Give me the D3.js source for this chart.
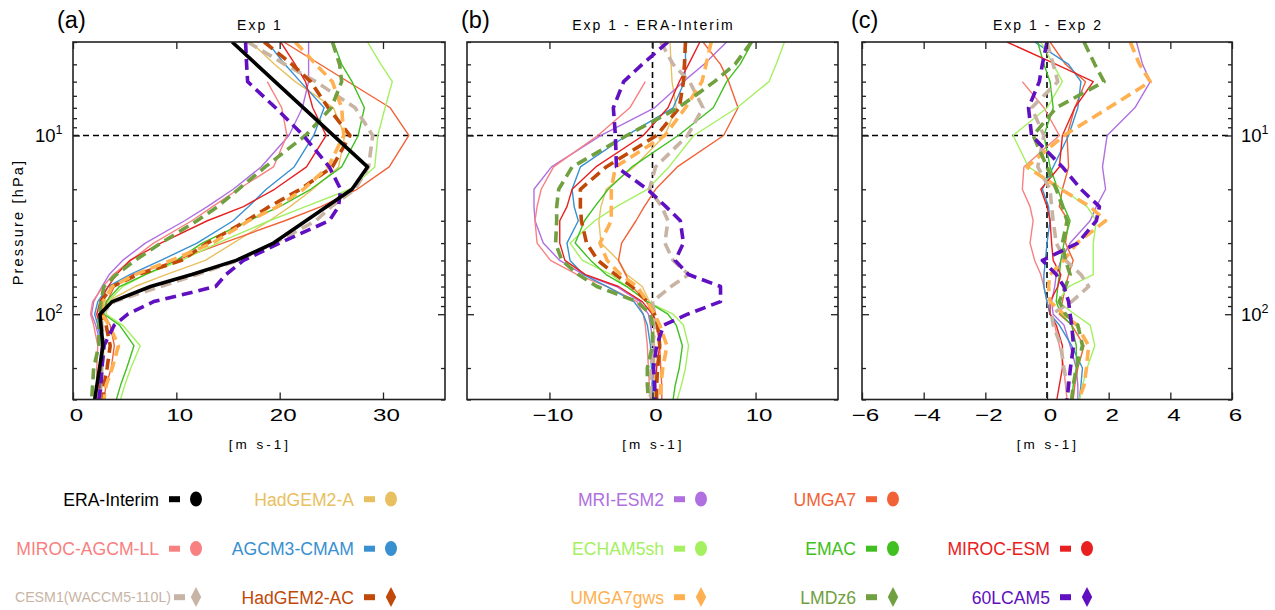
<!DOCTYPE html>
<html>
<head>
<meta charset="utf-8">
<script src="https://cdn.jsdelivr.net/npm/d3@7"></script>
<style>
  body { margin: 0; background: #ffffff; }
  svg { font-family: "Liberation Sans", Arial, Helvetica, sans-serif; }
</style>
</head>
<body>
<svg id="chart" width="1275" height="610"></svg>
<script>
// Pressure levels (hPa) shared by every profile; null = no value at that level
const pressureLevels = [3, 4, 5, 7, 10, 15, 20, 25, 30, 40, 50, 60, 70, 85, 100, 115, 150, 200, 250, 300];

// ---- (a) Exp 1 zonal wind [m s-1] ----
const exp1_ERAInterim = [15.4, null, null, null, null, 28.5, 27.0, null, null, 19.4, 15.8, 11.5, 7.5, 3.8, 2.6, null, 2.9, null, null, 2.1];
const exp1_HadGEM2A   = [17.2, 19.5, 21.5, 25.2, 26.3, 25.7, 23.2, 21.0, 19.0, 15.5, 12.8, 9.0, 6.0, 3.3, 2.5, 2.7, 3.0, 2.9, 2.8, 2.7];
const exp1_MRIESM2    = [22.8, 22.8, 22.8, 22.2, 20.9, 18.2, 15.5, 13.0, 10.8, 7.0, 4.8, 3.5, 2.8, 2.0, 1.8, 2.2, 2.7, 2.6, 2.5, 2.4];
const exp1_UMGA7      = [20.4, null, null, 30.7, 32.5, 30.6, 27.5, 24.0, 20.5, 14.5, 10.0, 5.8, 4.0, 3.3, 3.0, 3.6, 4.0, 3.7, 3.2, 3.0];
const exp1_MIROCAGCM  = [null, null, 18.8, 20.2, 20.7, 19.4, 16.0, 13.5, 11.5, 7.8, 5.6, 3.9, 2.9, 1.9, 1.7, 2.0, 2.4, 2.3, 2.3, 2.3];
const exp1_AGCM3CMAM  = [18.8, 20.5, 22.0, 24.3, 23.3, 21.4, 18.7, 17.0, 15.5, 12.0, 8.5, 5.5, 3.4, 2.4, 2.1, 2.4, 2.8, 2.8, 2.7, 2.6];
const exp1_ECHAM5sh   = [28.5, 29.8, 30.9, 30.2, 29.5, 29.2, 26.8, 22.5, 19.0, 14.0, 10.5, 7.0, 4.8, 3.4, 3.2, 4.8, 6.5, 5.6, 5.0, 4.6];
const exp1_EMAC       = [25.2, 26.0, 27.0, 28.2, 27.6, 26.0, 23.0, 20.0, 17.0, 12.5, 10.0, 7.0, 4.5, 3.2, 3.0, 4.5, 5.9, 5.2, 4.6, 4.2];
const exp1_MIROCESM   = [20.1, 21.5, 22.5, 23.2, 24.5, 22.6, 19.5, 16.5, 13.0, 8.5, 5.5, 4.2, 3.4, 2.6, 2.3, 2.6, 2.9, 2.7, 2.6, 2.5];
const exp1_CESM1      = [16.9, 20.5, 23.5, 27.3, 29.0, 28.6, 27.3, 25.0, 23.5, 19.5, 16.0, 12.0, 8.5, 4.0, 2.7, 2.8, 3.0, 2.8, 2.7, 2.6];
const exp1_HadGEM2AC  = [18.5, 21.2, 23.0, 24.7, 26.8, 25.1, 22.0, 19.0, 16.8, 13.0, 10.5, 6.3, 3.8, 2.7, 2.8, 3.2, 3.6, 3.3, 3.0, 2.9];
const exp1_UMGA7gws   = [21.5, 23.5, 25.1, 26.0, 26.2, 24.7, 22.3, 19.8, 17.0, 13.5, 9.5, 6.0, 3.8, 2.9, 2.8, 3.5, 4.4, 3.8, 3.2, 3.0];
const exp1_LMDz6      = [25.1, 25.8, 26.0, 25.0, 22.5, 18.6, 16.0, 14.0, 12.0, 8.5, 6.0, 4.2, 3.0, 2.7, 2.6, 2.5, 2.5, 2.0, 1.9, 1.8];
const exp1_60LCAM5    = [16.7, 16.8, 16.9, 19.6, 22.3, 24.8, 25.9, 25.7, 24.8, 20.0, 16.5, 14.8, 13.8, 7.8, 5.3, 4.0, 3.0, 2.8, 2.7, 2.5];

// ---- (b) Exp 1 - ERA-Interim [m s-1] ----
const diffEra_HadGEM2A  = [1.7, 1.8, 1.9, 2.3, 1.2, -1.8, -4.5, -5.0, -5.2, -5.0, -3.3, -2.5, -1.0, -0.3, 0.0, 0.1, 0.2, 0.2, 0.2, 0.2];
const diffEra_MRIESM2   = [7.2, 5.0, 3.0, 0.2, -5.0, -9.8, -11.5, -11.5, -11.4, -10.6, -9.0, -6.7, -3.5, -1.2, -0.4, -0.2, 0.1, 0.1, 0.0, 0.0];
const diffEra_UMGA7     = [4.9, 6.6, 7.4, 8.3, 6.9, 2.4, 0.3, -0.8, -1.6, -3.0, -3.3, -2.6, -2.0, -0.6, 0.1, 0.4, 0.7, 0.8, 0.9, 0.9];
const diffEra_MIROCAGCM = [null, null, -0.7, -2.2, -5.3, -9.6, -10.8, -11.2, -11.4, -11.2, -9.9, -7.3, -4.4, -1.5, -0.9, -0.7, -0.5, -0.4, -0.3, -0.2];
const diffEra_AGCM3CMAM = [3.2, 3.2, 3.1, 2.0, -2.5, -7.0, -7.8, -7.6, -7.2, -8.3, -8.0, -6.7, -4.4, -1.8, -0.9, -0.5, -0.2, -0.1, 0.0, 0.0];
const diffEra_ECHAM5sh  = [12.8, 12.0, 11.3, 8.2, 4.0, 1.6, -0.5, -3.5, -5.6, -8.0, -6.8, -4.0, -2.5, -0.5, 2.0, 3.0, 3.5, 3.2, 2.8, 2.4];
const diffEra_EMAC      = [9.7, 8.5, 7.2, 5.9, 2.5, -2.0, -4.3, -5.6, -6.6, -7.5, -6.0, -4.5, -2.5, -0.5, 1.5, 2.3, 2.9, 2.6, 2.2, 2.0];
const diffEra_MIROCESM  = [4.6, 3.5, 2.6, 1.5, -0.9, -5.5, -7.8, -8.3, -9.0, -9.0, -8.5, -6.5, -3.3, -1.0, 0.0, 0.5, 0.7, 0.4, 0.3, 0.3];
const diffEra_CESM1     = [0.8, 2.0, 3.6, 4.9, 3.4, 0.3, -0.3, 0.9, 1.5, 1.2, 2.0, 3.5, 1.8, 0.0, 0.2, 0.3, 0.0, -0.1, -0.2, -0.2];
const diffEra_HadGEM2AC = [3.2, 3.1, 3.0, 2.6, 0.4, -4.5, -7.0, -7.0, -6.9, -6.4, -5.3, -3.6, -2.0, -0.5, 0.2, 0.5, 0.7, 0.5, 0.4, 0.4];
const diffEra_UMGA7gws  = [5.7, 5.2, 4.8, 3.2, 1.2, -3.6, -4.0, -4.0, -4.0, -5.1, -4.4, -3.1, -1.5, -0.5, 0.2, 0.7, 1.4, 1.0, 0.8, 0.75];
const diffEra_LMDz6     = [9.6, 8.0, 6.0, 2.5, -2.5, -7.8, -9.1, -9.3, -9.3, -9.4, -8.8, -7.2, -5.4, -1.5, -0.2, 0.0, 0.0, -0.5, -0.5, -0.4];
const diffEra_60LCAM5   = [1.5, -1.0, -2.8, -3.8, -3.6, -3.5, -0.5, 1.3, 2.7, 3.0, 2.2, 3.5, 6.6, 6.6, 3.4, 1.1, 0.4, 0.1, 0.2, 0.25];

// ---- (c) Exp 1 - Exp 2 [m s-1] ----
const diffExp2_MRIESM2   = [2.9, 3.1, 3.35, 2.85, 1.95, 1.8, 1.9, 1.6, 1.4, 0.75, 0.45, 0.3, 0.25, 0.15, 0.2, 0.55, 0.75, 0.95, 1.0, 1.0];
const diffExp2_UMGA7     = [0.1, 0.6, 1.25, 0.9, 0.65, 0.7, 0.5, 0.4, 0.7, 0.6, 0.85, 0.7, 0.6, 0.5, 0.4, 0.8, 1.2, 1.0, 0.9, 0.85];
const diffExp2_MIROCAGCM = [null, null, -0.8, -0.1, 0.4, -0.75, -0.8, -0.55, -0.45, -0.55, -0.4, -0.2, -0.1, 0.0, 0.1, 0.25, 0.4, 0.55, 0.6, 0.65];
const diffExp2_AGCM3CMAM = [-0.4, 0.7, 1.1, 1.0, 0.7, 0.2, -0.15, 0.05, 0.1, 0.0, -0.05, -0.1, -0.1, 0.0, 0.1, 0.4, 0.8, 1.15, 1.1, 1.05];
const diffExp2_ECHAM5sh  = [-0.2, 0.2, 0.5, 0.0, -1.1, -0.6, 0.5, 1.3, 1.6, 1.5, 1.5, 1.5, 0.7, 0.35, 0.9, 1.4, 1.55, 1.3, 1.15, 1.05];
const diffExp2_EMAC      = [-0.3, -0.1, 0.1, 0.2, -0.1, 0.1, 0.35, 0.55, 0.75, 0.55, 0.45, 0.4, 0.35, 0.3, 0.45, 0.8, 0.95, 0.95, 0.85, 0.8];
const diffExp2_MIROCESM  = [-1.3, 0.3, 1.5, 0.9, 0.5, 0.4, -0.2, 0.0, 0.1, 0.15, 0.2, 0.45, 0.35, 0.1, 0.1, 0.3, 0.5, 0.5, 0.4, 0.32];
const diffExp2_CESM1     = [0.0, 0.2, 0.35, -0.5, -0.1, -0.3, 0.1, 0.15, 0.2, 0.3, 0.6, 1.1, 1.35, 0.8, 0.15, 0.2, 0.45, 0.55, 0.65, 0.7];
const diffExp2_UMGA7gws  = [2.7, 3.0, 3.35, 2.0, 0.55, -0.65, 0.45, 1.4, 1.9, 0.97, 0.54, 0.1, 0.05, 0.1, 0.54, 0.97, 1.35, 1.28, 1.2, 1.03];
const diffExp2_LMDz6     = [1.2, 1.55, 1.85, 0.3, -0.45, 0.0, 0.3, 0.5, 0.65, 0.5, 0.6, 0.75, 0.6, 0.4, 0.6, 1.0, 1.15, 0.95, 0.85, 0.8];
const diffExp2_60LCAM5   = [0.0, -0.15, -0.25, -0.6, -0.5, 0.5, 1.1, 1.7, 1.6, 1.0, -0.15, 0.3, 0.55, 0.7, 0.75, 0.8, 0.86, 0.76, 0.7, 0.65];

// Axis ticks and labels
const xTicksA = [0, 10, 20, 30];
const xTicksB = [-10, 0, 10];
const xTicksC = [-6, -4, -2, 0, 2, 4, 6];
const yMajorTicks = [10, 100];
const yMajorExponents = ["1", "2"];

// Line / marker styles per dataset
const styles = {
  "ERA-Interim":        { color: "#000000", width: 3.6, dashed: false, marker: "circle" },
  "HadGEM2-A":          { color: "#e8c060", width: 1.4, dashed: false, marker: "circle" },
  "MRI-ESM2":           { color: "#b070e0", width: 1.4, dashed: false, marker: "circle" },
  "UMGA7":              { color: "#f26238", width: 1.4, dashed: false, marker: "circle" },
  "MIROC-AGCM-LL":      { color: "#f88080", width: 1.4, dashed: false, marker: "circle" },
  "AGCM3-CMAM":         { color: "#3890d0", width: 1.4, dashed: false, marker: "circle" },
  "ECHAM5sh":           { color: "#a4f060", width: 1.4, dashed: false, marker: "circle" },
  "EMAC":               { color: "#40c020", width: 1.4, dashed: false, marker: "circle" },
  "MIROC-ESM":          { color: "#e82020", width: 1.4, dashed: false, marker: "circle" },
  "CESM1(WACCM5-110L)": { color: "#c8b4a4", width: 3.6, dashed: true,  marker: "diamond" },
  "HadGEM2-AC":         { color: "#c04808", width: 3.6, dashed: true,  marker: "diamond" },
  "UMGA7gws":           { color: "#ffb050", width: 3.6, dashed: true,  marker: "diamond" },
  "LMDz6":              { color: "#70a040", width: 3.6, dashed: true,  marker: "diamond" },
  "60LCAM5":            { color: "#6010c0", width: 3.6, dashed: true,  marker: "diamond" }
};

// Profiles per panel, in drawing order (thin solid first, dashed on top, reanalysis last)
const seriesA = [
  ["HadGEM2-A", exp1_HadGEM2A], ["MRI-ESM2", exp1_MRIESM2], ["UMGA7", exp1_UMGA7],
  ["MIROC-AGCM-LL", exp1_MIROCAGCM], ["AGCM3-CMAM", exp1_AGCM3CMAM], ["ECHAM5sh", exp1_ECHAM5sh],
  ["EMAC", exp1_EMAC], ["MIROC-ESM", exp1_MIROCESM], ["CESM1(WACCM5-110L)", exp1_CESM1],
  ["HadGEM2-AC", exp1_HadGEM2AC], ["UMGA7gws", exp1_UMGA7gws], ["LMDz6", exp1_LMDz6],
  ["60LCAM5", exp1_60LCAM5], ["ERA-Interim", exp1_ERAInterim]
];
const seriesB = [
  ["HadGEM2-A", diffEra_HadGEM2A], ["MRI-ESM2", diffEra_MRIESM2], ["UMGA7", diffEra_UMGA7],
  ["MIROC-AGCM-LL", diffEra_MIROCAGCM], ["AGCM3-CMAM", diffEra_AGCM3CMAM], ["ECHAM5sh", diffEra_ECHAM5sh],
  ["EMAC", diffEra_EMAC], ["MIROC-ESM", diffEra_MIROCESM], ["CESM1(WACCM5-110L)", diffEra_CESM1],
  ["HadGEM2-AC", diffEra_HadGEM2AC], ["UMGA7gws", diffEra_UMGA7gws], ["LMDz6", diffEra_LMDz6],
  ["60LCAM5", diffEra_60LCAM5]
];
const seriesC = [
  ["MRI-ESM2", diffExp2_MRIESM2], ["UMGA7", diffExp2_UMGA7], ["MIROC-AGCM-LL", diffExp2_MIROCAGCM],
  ["AGCM3-CMAM", diffExp2_AGCM3CMAM], ["ECHAM5sh", diffExp2_ECHAM5sh], ["EMAC", diffExp2_EMAC],
  ["MIROC-ESM", diffExp2_MIROCESM], ["CESM1(WACCM5-110L)", diffExp2_CESM1], ["UMGA7gws", diffExp2_UMGA7gws],
  ["LMDz6", diffExp2_LMDz6], ["60LCAM5", diffExp2_60LCAM5]
];

// Legend grid: [name, column, row]
const legendItems = [
  ["ERA-Interim", 0, 0], ["HadGEM2-A", 1, 0], ["MRI-ESM2", 2, 0], ["UMGA7", 3, 0],
  ["MIROC-AGCM-LL", 0, 1], ["AGCM3-CMAM", 1, 1], ["ECHAM5sh", 2, 1], ["EMAC", 3, 1], ["MIROC-ESM", 4, 1],
  ["CESM1(WACCM5-110L)", 0, 2], ["HadGEM2-AC", 1, 2], ["UMGA7gws", 2, 2], ["LMDz6", 3, 2], ["60LCAM5", 4, 2]
];

// ---------------------------------------------------------------
const svg = d3.select("#chart");
const plotTop = 42, plotBottom = 399.5;
const y = d3.scaleLog().domain([3, 300]).range([plotTop, plotBottom]);
const minorY = [];
[1, 10, 100].forEach(dec => d3.range(2, 10).forEach(k => {
  const v = k * dec;
  if (v >= 3 && v <= 300 && v !== 10 && v !== 100) minorY.push(v);
}));

const panels = [
  { key: "a", letter: "(a)", letterX: 57, title: "Exp 1", x0: 73, x1: 445, domain: [0, 36], ticks: xTicksA, series: seriesA, yLabels: "left", zero: false },
  { key: "b", letter: "(b)", letterX: 461, title: "Exp 1 - ERA-Interim", x0: 467, x1: 838, domain: [-18, 18], ticks: xTicksB, series: seriesB, yLabels: null, zero: true },
  { key: "c", letter: "(c)", letterX: 851, title: "Exp 1 - Exp 2", x0: 862, x1: 1232, domain: [-6, 6], ticks: xTicksC, series: seriesC, yLabels: "right", zero: true }
];

const fmt = v => (v < 0 ? "\u2212" + Math.abs(v) : String(v));

panels.forEach(p => {
  const x = d3.scaleLinear().domain(p.domain).range([p.x0, p.x1]);
  const g = svg.append("g").attr("class", "panel-" + p.key);
  const w = p.x1 - p.x0, h = plotBottom - plotTop;

  g.append("clipPath").attr("id", "clip-" + p.key)
    .append("rect").attr("x", p.x0).attr("y", plotTop).attr("width", w).attr("height", h);

  // reference lines
  g.append("line")
    .attr("x1", p.x0).attr("x2", p.x1).attr("y1", y(10)).attr("y2", y(10))
    .attr("stroke", "#000").attr("stroke-width", 1.6).attr("stroke-dasharray", "6,4");
  if (p.zero) {
    g.append("line")
      .attr("x1", x(0)).attr("x2", x(0)).attr("y1", plotTop).attr("y2", plotBottom)
      .attr("stroke", "#000").attr("stroke-width", 1.6).attr("stroke-dasharray", "6,4");
  }

  // profiles
  const line = d3.line().x(d => x(d[1])).y(d => y(d[0]));
  const lines = g.append("g").attr("clip-path", "url(#clip-" + p.key + ")");
  p.series.forEach(([name, vals]) => {
    const st = styles[name];
    const pts = pressureLevels.map((lev, i) => [lev, vals[i]]).filter(d => d[1] !== null);
    lines.append("path")
      .datum(pts)
      .attr("d", line)
      .attr("fill", "none")
      .attr("stroke", st.color)
      .attr("stroke-width", st.width)
      .attr("stroke-linejoin", "round")
      .attr("stroke-dasharray", st.dashed ? "11,6" : null);
  });

  // x axes (ticks point inward)
  const xb = g.append("g").attr("transform", `translate(0,${plotBottom})`)
    .call(d3.axisBottom(x).tickValues(p.ticks).tickSizeInner(-7).tickSizeOuter(0).tickPadding(9).tickFormat(fmt));
  const xt = g.append("g").attr("transform", `translate(0,${plotTop})`)
    .call(d3.axisTop(x).tickValues(p.ticks).tickSizeInner(-7).tickSizeOuter(0).tickFormat(""));
  [xb, xt].forEach(a => {
    a.select(".domain").remove();
    a.selectAll(".tick line").attr("stroke", "#222").attr("stroke-width", 1.3);
  });
  xb.selectAll(".tick text")
    .attr("fill", "#000").attr("font-size", 17).attr("font-family", "Liberation Sans, Arial, sans-serif")
    .attr("transform", "translate(3,0) scale(1.42,1)");

  // y axes: major and minor ticks on both sides
  const yAxes = [
    [d3.axisLeft(y).tickValues(yMajorTicks).tickSizeInner(-7), p.x0],
    [d3.axisLeft(y).tickValues(minorY).tickSizeInner(-4), p.x0],
    [d3.axisRight(y).tickValues(yMajorTicks).tickSizeInner(-7), p.x1],
    [d3.axisRight(y).tickValues(minorY).tickSizeInner(-4), p.x1]
  ];
  yAxes.forEach(([ax, xpos]) => {
    const a = g.append("g").attr("transform", `translate(${xpos},0)`)
      .call(ax.tickSizeOuter(0).tickFormat(""));
    a.select(".domain").remove();
    a.selectAll(".tick line").attr("stroke", "#222").attr("stroke-width", 1.3);
  });

  // decade labels 10^n
  if (p.yLabels) {
    yMajorTicks.forEach((t, i) => {
      const tx = p.yLabels === "left" ? p.x0 - 38 : p.x1 + 9;
      const txt = g.append("text")
        .attr("x", tx).attr("y", y(t) + 7)
        .attr("font-size", 18.5).attr("fill", "#000");
      txt.append("tspan").text("10");
      txt.append("tspan").attr("font-size", 12.5).attr("dy", -8).text(yMajorExponents[i]);
    });
  }

  // frame
  g.append("rect").attr("x", p.x0).attr("y", plotTop).attr("width", w).attr("height", h)
    .attr("fill", "none").attr("stroke", "#222").attr("stroke-width", 1.6);

  // titles
  g.append("text").attr("x", p.letterX).attr("y", 28).attr("font-size", 23.5).text(p.letter);
  g.append("text").attr("x", (p.x0 + p.x1) / 2 + 1).attr("y", 30)
    .attr("text-anchor", "middle").attr("font-size", 14).attr("letter-spacing", 2)
    .text(p.title);
  g.append("text").attr("x", (p.x0 + p.x1) / 2 + 1).attr("y", 449)
    .attr("text-anchor", "middle").attr("font-size", 13.5).attr("letter-spacing", 3)
    .text("[m s-1]");
});

// vertical axis title
svg.append("text")
  .attr("transform", "translate(23,222) rotate(-90)")
  .attr("text-anchor", "middle").attr("font-size", 14.5).attr("letter-spacing", 2.2)
  .text("Pressure [hPa]");

// legend
const legendColX = [196, 391, 701, 893, 1087];
const legendRowY = [499, 548.5, 597];
const lg = svg.append("g").attr("class", "legend");
legendItems.forEach(([name, col, row]) => {
  const st = styles[name];
  const cx = legendColX[col], cy = legendRowY[row];
  const small = name.length > 14;
  lg.append("text")
    .attr("x", small ? cx - 25 : cx - 37).attr("y", small ? cy + 5 : cy + 6.5)
    .attr("text-anchor", "end").attr("font-size", small ? 14.2 : 17.6)
    .attr("fill", st.color).text(name);
  const d0 = small ? cx - 22 : cx - 27;
  lg.append("rect").attr("x", d0).attr("y", cy - 2.8).attr("width", 11).attr("height", 6)
    .attr("fill", st.color);
  if (st.marker === "circle") {
    lg.append("ellipse").attr("cx", cx).attr("cy", cy).attr("rx", 6).attr("ry", 7.5).attr("fill", st.color);
  } else {
    lg.append("path")
      .attr("d", `M${cx},${cy - 10}L${cx + 5.2},${cy}L${cx},${cy + 10}L${cx - 5.2},${cy}Z`)
      .attr("fill", st.color);
  }
});
</script>
</body>
</html>
